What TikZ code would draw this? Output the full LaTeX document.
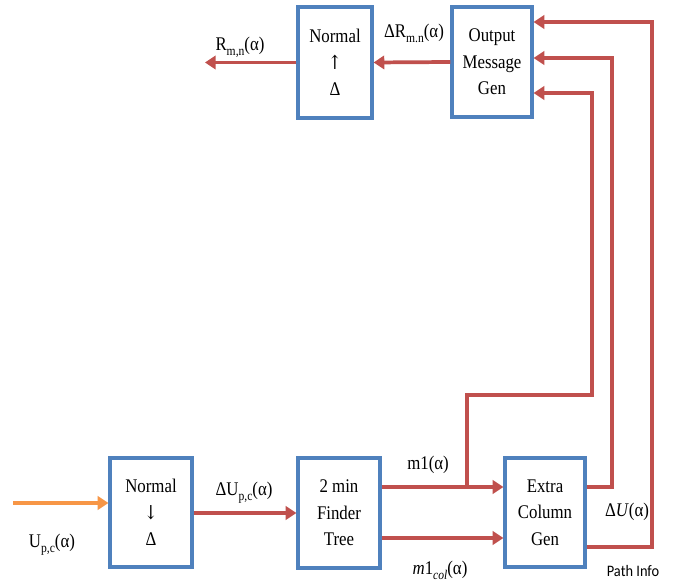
\documentclass[tikz,border=0pt]{standalone}
\usepackage{fontspec}
\setmainfont{Liberation Serif}[FakeStretch=0.87]
\newfontfamily\pathfont{Carlito}[FakeStretch=0.9]
\newfontfamily\symfont{DejaVu Serif}[FakeStretch=0.87]
\usetikzlibrary{arrows.meta}
\definecolor{ored}{HTML}{C0504D}
\definecolor{oblue}{HTML}{4F81BD}
\definecolor{oorange}{HTML}{F79646}
\newcommand\sbs[1]{\raisebox{-0.55ex}{\fontsize{10}{10}\selectfont #1}}
\tikzset{
  blk/.style={draw=oblue, line width=2.4pt, fill=white, align=center, inner sep=0pt,
    font=\fontsize{14.5}{20}\selectfont},
  lbl/.style={inner sep=0pt, font=\fontsize{14.5}{16}\selectfont},
  redw/.style={draw=ored, line width=2.8pt, line join=miter, -{Triangle[length=8pt,width=10pt]}},
  orw/.style={draw=oorange, line width=2.8pt, -{Triangle[length=8pt,width=10pt]}}
}
\begin{document}
\begin{tikzpicture}[x=0.75pt,y=-0.75pt]
\useasboundingbox[fill=white] (0,0) rectangle (673,580);
% boxes
\node[blk, minimum width=55.5pt, minimum height=83.25pt] (nt) at (335,62.5) {Normal\\{\symfont ↑}\\Δ};
\node[blk, minimum width=60pt, minimum height=82.5pt] (om) at (492,62) {Output\\Message\\Gen};
\node[blk, minimum width=61.5pt, minimum height=81.75pt] (nb) at (151,512.5) {Normal\\{\symfont ↓}\\Δ};
\node[blk, minimum width=61.5pt, minimum height=82.5pt] (mf) at (339,513) {2 min\\Finder\\Tree};
\node[blk, minimum width=60pt, minimum height=81.75pt] (ec) at (545,512.5) {Extra\\Column\\Gen};
% labels
\node[lbl] (lr) at (240,47) {R\sbs{m,n}(α)};
\node[lbl] (ldr) at (414,33) {ΔR\sbs{m.n}(α)};
\node[lbl] (ldu) at (244,493) {ΔU\sbs{p,c}(α)};
\node[lbl] (lu) at (52,545) {U\sbs{p,c}(α)};
\node[lbl] (lm1) at (428,465) {m1(α)};
\node[lbl] (lmc) at (440,570) {\textit{m}1\sbs{\textit{col}}(α)};
\node[lbl] (ldU) at (627,512) {Δ\textit{U}(α)};
\node[inner sep=0pt, font=\pathfont\fontsize{12}{13}\selectfont] (lpi) at (633,571) {Path Info};
% helper coordinates
\coordinate (rout) at (205,62.5);
\coordinate (uin) at (13,503);
\coordinate (yA) at (0,487);
\coordinate (yB) at (0,538);
\coordinate (yD) at (0,547);
\coordinate (yE) at (0,395);
\coordinate (y1) at (0,22);
\coordinate (y2) at (0,58);
\coordinate (y3) at (0,93);
\coordinate (xA) at (467,0);
\coordinate (xB) at (592,0);
\coordinate (xC) at (612,0);
\coordinate (xD) at (652,0);
% connectors
\draw[orw] (uin) -- (nb.west |- uin);
\draw[redw] (nb.east |- 0,513) -- (mf.west |- 0,513);
\draw[redw] (mf.east |- yA) -- (ec.west |- yA);
\draw[redw] (mf.east |- yB) -- (ec.west |- yB);
\draw[redw] (xA |- yA) -- (xA |- yE) -- (xB |- yE) -- (xB |- y3) -- (om.east |- y3);
\draw[redw] (ec.east |- yA) -- (xC |- yA) -- (xC |- y2) -- (om.east |- y2);
\draw[redw] (ec.east |- yD) -- (xD |- yD) -- (xD |- y1) -- (om.east |- y1);
\draw[redw] (om.west) -- (nt.east);
\draw[redw] (nt.west) -- (rout);
\end{tikzpicture}
\end{document}
